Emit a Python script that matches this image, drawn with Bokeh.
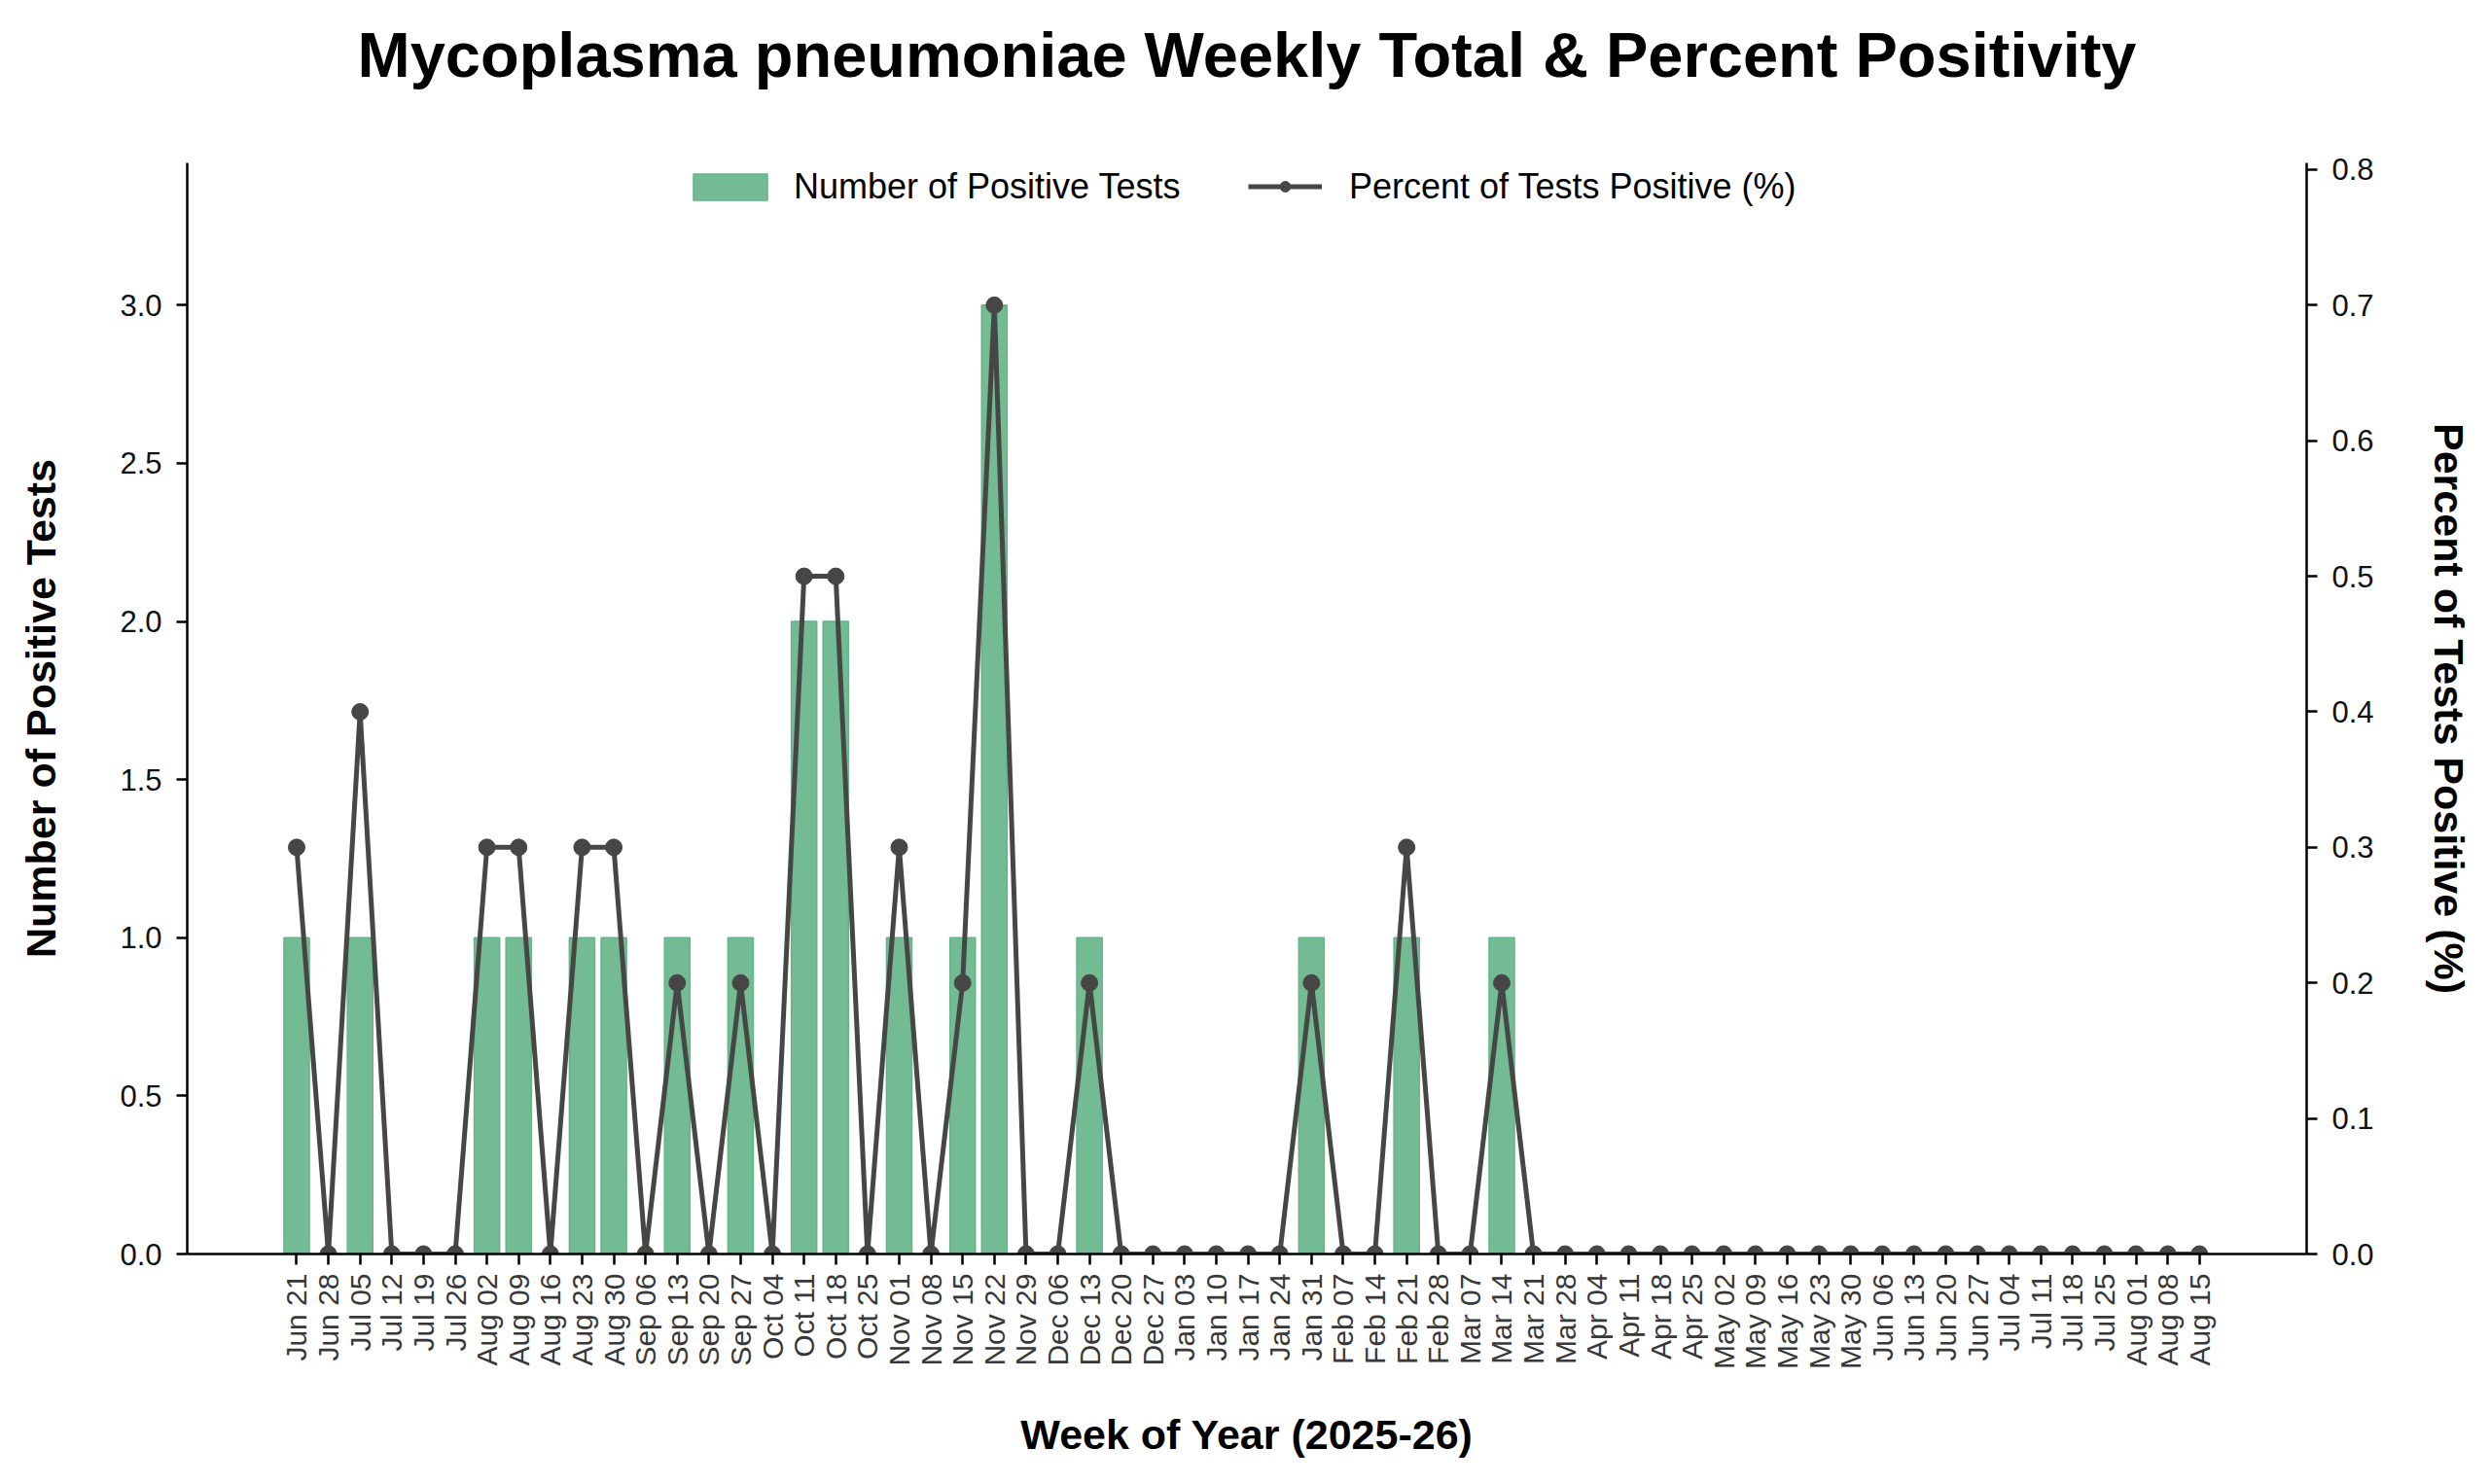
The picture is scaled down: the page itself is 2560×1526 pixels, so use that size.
import math
from bokeh.plotting import figure
from bokeh.models import (Range1d, LinearAxis, FixedTicker, NumeralTickFormatter,
                          Legend, LegendItem, ColumnDataSource, Title)
from bokeh.embed import file_html
from bokeh.resources import INLINE

weeks = ["Jun 21", "Jun 28", "Jul 05", "Jul 12", "Jul 19", "Jul 26", "Aug 02", "Aug 09",
         "Aug 16", "Aug 23", "Aug 30", "Sep 06", "Sep 13", "Sep 20", "Sep 27", "Oct 04",
         "Oct 11", "Oct 18", "Oct 25", "Nov 01", "Nov 08", "Nov 15", "Nov 22", "Nov 29",
         "Dec 06", "Dec 13", "Dec 20", "Dec 27", "Jan 03", "Jan 10", "Jan 17", "Jan 24",
         "Jan 31", "Feb 07", "Feb 14", "Feb 21", "Feb 28", "Mar 07", "Mar 14", "Mar 21",
         "Mar 28", "Apr 04", "Apr 11", "Apr 18", "Apr 25", "May 02", "May 09", "May 16",
         "May 23", "May 30", "Jun 06", "Jun 13", "Jun 20", "Jun 27", "Jul 04", "Jul 11",
         "Jul 18", "Jul 25", "Aug 01", "Aug 08", "Aug 15"]

positive_tests = [1, 0, 1, 0, 0, 0, 1, 1,
                  0, 1, 1, 0, 1, 0, 1, 0,
                  2, 2, 0, 1, 0, 1, 3, 0,
                  0, 1, 0, 0, 0, 0, 0, 0,
                  1, 0, 0, 1, 0, 0, 1, 0,
                  0, 0, 0, 0, 0, 0, 0, 0,
                  0, 0, 0, 0, 0, 0, 0, 0,
                  0, 0, 0, 0, 0]

percent_positive = [0.3, 0.0, 0.4, 0.0, 0.0, 0.0, 0.3, 0.3,
                    0.0, 0.3, 0.3, 0.0, 0.2, 0.0, 0.2, 0.0,
                    0.5, 0.5, 0.0, 0.3, 0.0, 0.2, 0.7, 0.0,
                    0.0, 0.2, 0.0, 0.0, 0.0, 0.0, 0.0, 0.0,
                    0.2, 0.0, 0.0, 0.3, 0.0, 0.0, 0.2, 0.0,
                    0.0, 0.0, 0.0, 0.0, 0.0, 0.0, 0.0, 0.0,
                    0.0, 0.0, 0.0, 0.0, 0.0, 0.0, 0.0, 0.0,
                    0.0, 0.0, 0.0, 0.0, 0.0]

left_ticks = [0.0, 0.5, 1.0, 1.5, 2.0, 2.5, 3.0]
right_ticks = [0.0, 0.1, 0.2, 0.3, 0.4, 0.5, 0.6, 0.7, 0.8]

idx = list(range(len(weeks)))
src = ColumnDataSource(dict(x=idx, n=positive_tests, pct=percent_positive))

FONT = "Liberation Sans"
BAR = "#72bb93"
LINE = "#464644"

W, H = 2544, 1510
MB_L, MB_R, MB_T, MB_B = 192, 172, 167, 221
FRAME_H = H - MB_T - MB_B

p = figure(width=W, height=H, output_backend="svg", toolbar_location=None, title=None,
           x_range=Range1d(-3.45, 63.38), y_range=Range1d(0, 3.45),
           min_border_left=MB_L, min_border_right=MB_R, min_border_top=MB_T,
           min_border_bottom=MB_B)
p.extra_y_ranges = {"pct": Range1d(0, 0.805)}

# keep references to the default axes before anything else is added
xa = p.below[0]
ya = p.left[0]

# an empty, invisible axis above the frame keeps the title away from the plot area
gap_axis = LinearAxis(ticker=FixedTicker(ticks=[]), axis_line_alpha=0,
                      major_tick_out=0, major_tick_in=0, minor_tick_out=0, minor_tick_in=0,
                      major_label_standoff=0, major_label_text_alpha=0,
                      axis_label=".", axis_label_text_alpha=0,
                      axis_label_text_font_size="20px", axis_label_standoff=58)
p.add_layout(gap_axis, "above")
main_title = Title(text="Mycoplasma pneumoniae Weekly Total & Percent Positivity",
                   text_font=FONT, text_font_size="65px", text_font_style="bold",
                   align="center", text_color="#000000", standoff=0)
p.add_layout(main_title, "above")

p.xgrid.visible = False
p.ygrid.visible = False
p.outline_line_color = None
p.background_fill_color = "white"
p.border_fill_color = "white"

bars = p.vbar(x="x", top="n", width=0.8, source=src, fill_color=BAR,
              line_color="#66b38a", line_width=1.5)
ln = p.line(x="x", y="pct", source=src, y_range_name="pct", line_color=LINE,
            line_width=5)
pts = p.scatter(x="x", y="pct", source=src, y_range_name="pct", size=17,
                fill_color=LINE, line_color=LINE)

right = LinearAxis(y_range_name="pct")
p.add_layout(right, "right")

xa.ticker = FixedTicker(ticks=idx)
xa.major_label_overrides = {i: w for i, w in enumerate(weeks)}
xa.major_label_orientation = math.pi / 2
xa.axis_label = "Week of Year (2025-26)"
xa.major_label_text_font_size = "30px"
xa.major_label_text_color = "#383838"
xa.major_label_standoff = 9
xa.axis_label_standoff = 40

ya.ticker = FixedTicker(ticks=left_ticks)
ya.formatter = NumeralTickFormatter(format="0.0")
ya.axis_label = "Number of Positive Tests"
ya.axis_label_standoff = 54

right.ticker = FixedTicker(ticks=right_ticks)
right.formatter = NumeralTickFormatter(format="0.0")
right.axis_label = "Percent of Tests Positive (%)"
right.axis_label_standoff = 50

for ax in (xa, ya, right):
    ax.axis_line_color = "black"
    ax.axis_line_width = 2.5
    ax.major_tick_line_color = "black"
    ax.major_tick_line_width = 2.5
    ax.major_tick_out = 11
    ax.major_tick_in = 0
    ax.minor_tick_out = 0
    ax.minor_tick_in = 0
    ax.axis_label_text_font = FONT
    ax.axis_label_text_font_size = "43px"
    ax.axis_label_text_font_style = "bold"
    ax.axis_label_text_color = "black"
    ax.major_label_text_font = FONT

for ax in (ya, right):
    ax.major_label_text_font_size = "31px"
    ax.major_label_text_color = "#111111"
    ax.major_label_standoff = 15

# two legends side by side, so that the bar patch and the line sample get their own sizes
LEG_H = 42
LEG_TOP = 3.5  # legend box top below frame top (px)
vy = FRAME_H - (LEG_TOP + LEG_H)

legend_bar = Legend(items=[LegendItem(label="Number of Positive Tests", renderers=[bars])],
                    location=(511, vy), orientation="horizontal",
                    glyph_width=95, glyph_height=34, label_standoff=18,
                    label_text_font=FONT, label_text_font_size="36px",
                    label_text_color="black", border_line_alpha=0,
                    background_fill_alpha=0, margin=0, padding=0)
legend_line = Legend(items=[LegendItem(label="Percent of Tests Positive (%)", renderers=[ln, pts])],
                     location=(1091, vy), orientation="horizontal",
                     glyph_width=76, glyph_height=27, label_standoff=28,
                     label_text_font=FONT, label_text_font_size="36px",
                     label_text_color="black", border_line_alpha=0,
                     background_fill_alpha=0, margin=0, padding=0)
p.add_layout(legend_bar, "center")
p.add_layout(legend_line, "center")

open("out.html", "w").write(file_html(p, INLINE))
